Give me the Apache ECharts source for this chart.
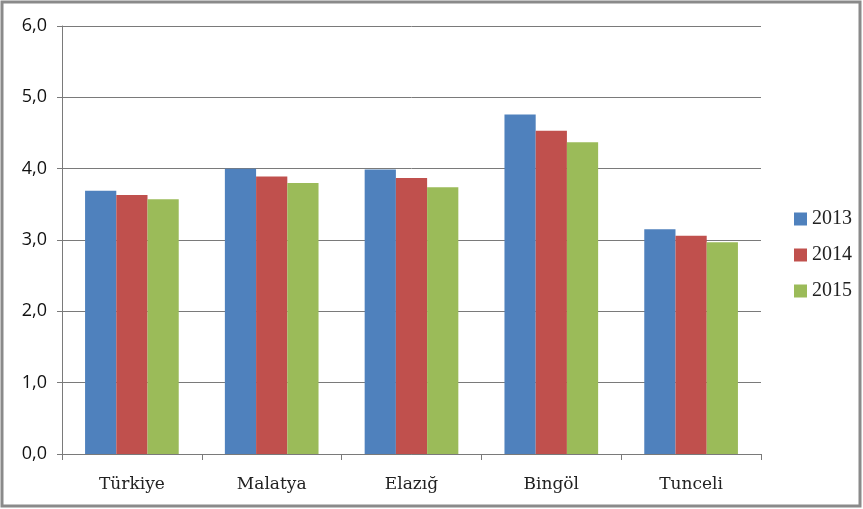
<!DOCTYPE html>
<html><head><meta charset="utf-8">
<script src="https://cdn.jsdelivr.net/npm/echarts@6/dist/echarts.min.js"></script>
<style>html,body{margin:0;padding:0;background:#fff}#c{width:863px;height:509px}</style>
</head><body><div id="c"></div>
<script>
const categories = ['Türkiye','Malatya','Elazığ','Bingöl','Tunceli'];
const seriesNames = ['2013','2014','2015'];
const v2013 = [3.69, 4.00, 3.99, 4.76, 3.15];
const v2014 = [3.63, 3.89, 3.87, 4.53, 3.06];
const v2015 = [3.57, 3.80, 3.74, 4.37, 2.97];
const colors = ['#4F81BD','#C0504D','#9BBB59'];
const values = [v2013, v2014, v2015];

const chart = echarts.init(document.getElementById('c'), null, {renderer:'canvas'});
chart.setOption({
  animation:false,
  backgroundColor:'#fff',
  graphic:[{type:'rect',shape:{x:2,y:2,width:858,height:504},style:{fill:'none',stroke:'#8a8a8a',lineWidth:3},silent:true}],
  grid:{left:62,top:26,right:102,bottom:55,containLabel:false},
  legend:{orient:'vertical',left:789,top:204,itemWidth:13,itemHeight:13,itemGap:16,icon:'rect',
    textStyle:{fontFamily:'Liberation Serif',fontSize:20,color:'#222'},data:seriesNames},
  xAxis:{type:'category',data:categories,
    axisLine:{lineStyle:{color:'#7a7a7a',width:1}},
    axisTick:{show:true,length:6,lineStyle:{color:'#7a7a7a'},alignWithLabel:false},
    axisLabel:{fontFamily:'DejaVu Serif',fontSize:17,color:'#222',margin:22}},
  yAxis:{type:'value',min:0,max:6,interval:1,
    axisLine:{show:true,lineStyle:{color:'#7a7a7a',width:1}},
    axisTick:{show:true,length:5,lineStyle:{color:'#7a7a7a'}},
    splitLine:{lineStyle:{color:'#7a7a7a',width:1}},
    axisLabel:{fontFamily:'Open Sans',fontSize:18,color:'#111',margin:15,
      formatter:v=>v.toFixed(1).replace('.',',')}},
  series: seriesNames.map((n,i)=>({name:n,type:'bar',data:values[i],barGap:'0%',barCategoryGap:'33%',
    itemStyle:{color:colors[i]}}))
});
</script></body></html>
